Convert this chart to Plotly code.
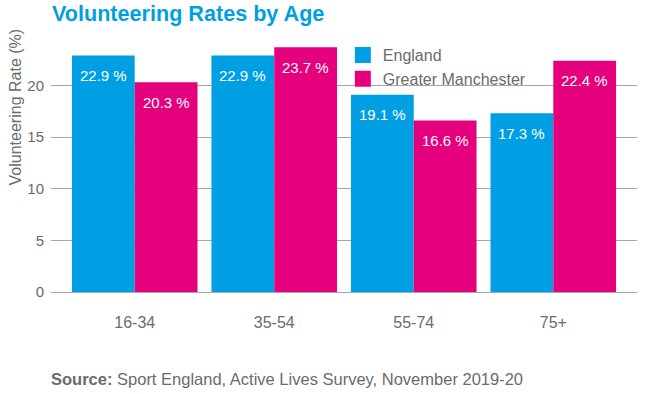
import plotly.graph_objects as go

categories = ["16-34", "35-54", "55-74", "75+"]
england = [22.9, 22.9, 19.1, 17.3]
greater_manchester = [20.3, 23.7, 16.6, 22.4]
series_names = ["England", "Greater Manchester"]
colors = ["#009FE3", "#E5007E"]
y_ticks = [0, 5, 10, 15, 20]

FONT = "Liberation Sans, Arial, sans-serif"
GRAY = "#6b6b6b"

fig = go.Figure()
for name, vals, col in zip(series_names, [england, greater_manchester], colors):
    fig.add_trace(go.Bar(
        x=categories, y=vals, name=name, marker=dict(color=col, line=dict(width=0)),
        showlegend=False,
    ))
    fig.add_trace(go.Scatter(
        x=[None], y=[None], mode="markers", name=name,
        marker=dict(symbol="square", size=21, color=col),
        showlegend=True,
    ))

# value labels inside bars near top
for j, vals in enumerate([england, greater_manchester]):
    shift = -31.5 if j == 0 else 31.5
    for c, v in zip(categories, vals):
        fig.add_annotation(
            x=c, y=v, xref="x", yref="y", text=f"{v} %", showarrow=False,
            xshift=shift, yshift=-20, font=dict(color="white", size=15, family=FONT),
        )

fig.add_annotation(
    text="Volunteering Rate (%)", textangle=-90, xref="paper", yref="paper",
    x=-0.0614, y=1.052, xanchor="center", yanchor="top", showarrow=False,
    font=dict(size=16, color=GRAY, family=FONT),
)
fig.add_annotation(
    text="<b>Source:</b> Sport England, Active Lives Survey, November 2019-20",
    xref="paper", yref="paper", x=-0.0034, y=-0.345, xanchor="left", yanchor="middle",
    showarrow=False, font=dict(size=16.5, color=GRAY, family=FONT),
)

fig.update_layout(
    width=645, height=394,
    margin=dict(l=51, r=8, t=40, b=102),
    paper_bgcolor="white", plot_bgcolor="white",
    barmode="group", bargap=0.1, bargroupgap=0,
    font=dict(family=FONT, color=GRAY),
    title=dict(text="<b>Volunteering Rates by Age</b>", x=0.0806, xanchor="left",
               y=0.967, yanchor="middle",
               font=dict(size=21.6, color="#009FE3", family=FONT)),
    legend=dict(x=0.498, y=1.008, xanchor="left", yanchor="top",
                font=dict(size=16, color=GRAY, family=FONT),
                bgcolor="rgba(0,0,0,0)", tracegroupgap=0, itemsizing="trace"),
    xaxis=dict(range=[-0.6, 3.6], showgrid=False, showline=False, ticks="",
               tickfont=dict(size=16, color=GRAY), ticklabelstandoff=19),
    yaxis=dict(range=[0, 24.4], tickvals=y_ticks, showgrid=True, gridcolor="#a6a6a6",
               gridwidth=1, zeroline=True, zerolinecolor="#a6a6a6", zerolinewidth=1,
               showline=False, ticks="", tickfont=dict(size=15, color=GRAY),
               ticklabelstandoff=6),
)

fig.write_html("out.html", config={"displayModeBar": False},
               post_script="document.body.style.margin='0';")
